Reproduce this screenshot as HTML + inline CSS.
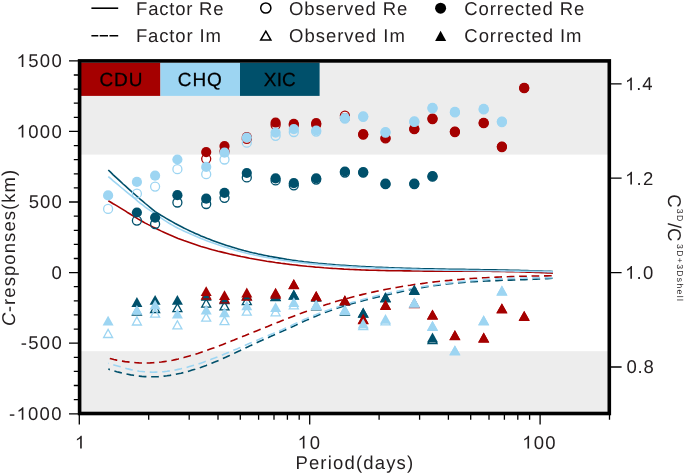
<!DOCTYPE html><html><head><meta charset="utf-8"><style>
html,body{margin:0;padding:0;background:#fff;overflow:hidden;}
svg{display:block;will-change:transform;}
text{font-family:"Liberation Sans",sans-serif;font-size:18.5px;fill:#231f20;letter-spacing:1.10px;text-rendering:geometricPrecision;}
text.st{fill:#000;stroke:#000;stroke-width:0.25px;}
</style></head><body>
<svg width="685" height="475" viewBox="0 0 685 475">
<rect x="0" y="0" width="685" height="475" fill="#fff"/>
<rect x="79.6" y="60.9" width="529.7" height="93.7" fill="#ededed"/>
<rect x="79.6" y="351.2" width="529.7" height="62.3" fill="#ededed"/>
<rect x="81" y="62.6" width="79.4" height="33.3" fill="#a50000"/>
<rect x="160.4" y="62.6" width="79.6" height="33.3" fill="#9dd5f2"/>
<rect x="240" y="62.6" width="79.6" height="33.3" fill="#00506b"/>
<text x="99.44" y="85.60" style="letter-spacing:0.934px;font-size:19.00px" class="st">CDU</text>
<text x="177.84" y="85.60" style="letter-spacing:0.926px;font-size:19.00px" class="st">CHQ</text>
<text x="263.77" y="85.60" style="letter-spacing:0.189px;font-size:19.00px" class="st">XIC</text>
<path d="M108.3,200.8 L110.8,202.2 L113.2,203.7 L115.7,205.1 L118.2,206.6 L120.6,208.1 L123.1,209.6 L125.6,211.2 L128.0,212.8 L130.5,214.3 L133.0,215.9 L135.5,217.4 L137.9,218.9 L140.4,220.3 L142.9,221.7 L145.3,223.1 L147.8,224.4 L150.3,225.6 L152.7,226.9 L155.2,228.0 L158.1,229.5 L160.9,230.9 L163.8,232.2 L166.6,233.5 L169.5,234.8 L172.4,236.0 L175.2,237.2 L178.1,238.4 L181.0,239.5 L183.8,240.6 L186.7,241.6 L189.5,242.6 L192.4,243.6 L195.3,244.6 L198.1,245.5 L201.0,246.4 L203.8,247.2 L206.7,248.1 L209.6,248.9 L212.4,249.7 L215.3,250.4 L218.1,251.2 L221.0,251.9 L223.9,252.6 L226.7,253.3 L229.6,254.0 L232.5,254.6 L235.3,255.2 L238.2,255.9 L241.0,256.5 L243.9,257.0 L246.8,257.6 L249.6,258.2 L252.5,258.7 L255.3,259.2 L258.2,259.7 L261.1,260.2 L263.9,260.7 L266.8,261.2 L269.6,261.6 L272.5,262.0 L275.4,262.5 L278.2,262.9 L281.1,263.3 L284.0,263.6 L286.8,264.0 L289.7,264.4 L292.5,264.7 L295.4,265.0 L298.3,265.4 L301.1,265.7 L304.0,266.0 L306.8,266.3 L309.7,266.5 L312.6,266.8 L315.4,267.1 L318.3,267.3 L321.1,267.5 L324.0,267.8 L326.9,268.0 L329.7,268.2 L332.6,268.4 L335.5,268.5 L338.3,268.7 L341.2,268.9 L344.0,269.1 L346.9,269.2 L349.8,269.4 L352.6,269.5 L355.5,269.6 L358.3,269.7 L361.2,269.9 L364.1,270.0 L366.9,270.1 L369.8,270.2 L372.6,270.2 L375.5,270.3 L378.4,270.4 L381.2,270.5 L384.1,270.5 L387.0,270.6 L389.8,270.7 L392.7,270.7 L395.5,270.8 L398.4,270.8 L401.3,270.8 L404.1,270.9 L407.0,270.9 L409.8,270.9 L412.7,271.0 L415.6,271.0 L418.4,271.0 L421.3,271.0 L424.1,271.1 L427.0,271.1 L429.9,271.1 L432.7,271.1 L435.6,271.1 L438.5,271.1 L441.3,271.1 L444.2,271.1 L447.0,271.1 L449.9,271.1 L452.8,271.1 L455.6,271.2 L458.5,271.2 L461.3,271.2 L464.2,271.2 L467.1,271.2 L469.9,271.2 L472.8,271.2 L475.6,271.2 L478.5,271.3 L481.4,271.3 L484.2,271.3 L487.1,271.3 L490.0,271.3 L492.8,271.4 L495.7,271.4 L498.5,271.5 L501.4,271.5 L504.3,271.5 L507.1,271.6 L510.0,271.6 L512.8,271.7 L515.7,271.8 L518.6,271.8 L521.4,271.9 L524.3,272.0 L527.1,272.1 L530.0,272.2 L532.9,272.3 L535.7,272.4 L538.6,272.5 L541.5,272.6 L544.3,272.7 L547.2,272.9 L550.0,273.0 L552.9,273.2" fill="none" stroke="#a50000" stroke-width="1.6"/>
<path d="M108.3,170.0 L110.8,172.4 L113.2,174.8 L115.7,177.1 L118.2,179.4 L120.6,181.7 L123.1,184.0 L125.6,186.2 L128.0,188.4 L130.5,190.6 L133.0,192.8 L135.5,195.0 L137.9,197.1 L140.4,199.3 L142.9,201.4 L145.3,203.5 L147.8,205.5 L150.3,207.6 L152.7,209.6 L155.2,211.6 L158.1,213.4 L160.9,215.2 L163.8,216.9 L166.6,218.6 L169.5,220.3 L172.4,221.9 L175.2,223.5 L178.1,225.0 L181.0,226.5 L183.8,228.0 L186.7,229.4 L189.5,230.7 L192.4,232.1 L195.3,233.4 L198.1,234.6 L201.0,235.9 L203.8,237.0 L206.7,238.2 L209.6,239.3 L212.4,240.4 L215.3,241.5 L218.1,242.5 L221.0,243.5 L223.9,244.5 L226.7,245.4 L229.6,246.3 L232.5,247.2 L235.3,248.1 L238.2,248.9 L241.0,249.7 L243.9,250.5 L246.8,251.2 L249.6,252.0 L252.5,252.7 L255.3,253.3 L258.2,254.0 L261.1,254.6 L263.9,255.2 L266.8,255.8 L269.6,256.4 L272.5,256.9 L275.4,257.4 L278.2,257.9 L281.1,258.4 L284.0,258.9 L286.8,259.4 L289.7,259.8 L292.5,260.2 L295.4,260.6 L298.3,261.0 L301.1,261.3 L304.0,261.7 L306.8,262.0 L309.7,262.4 L312.6,262.7 L315.4,263.0 L318.3,263.3 L321.1,263.5 L324.0,263.8 L326.9,264.1 L329.7,264.3 L332.6,264.5 L335.5,264.8 L338.3,265.0 L341.2,265.2 L344.0,265.4 L346.9,265.6 L349.8,265.8 L352.6,266.0 L355.5,266.1 L358.3,266.3 L361.2,266.5 L364.1,266.6 L366.9,266.8 L369.8,266.9 L372.6,267.0 L375.5,267.2 L378.4,267.3 L381.2,267.4 L384.1,267.5 L387.0,267.6 L389.8,267.8 L392.7,267.9 L395.5,268.0 L398.4,268.0 L401.3,268.1 L404.1,268.2 L407.0,268.3 L409.8,268.4 L412.7,268.5 L415.6,268.5 L418.4,268.6 L421.3,268.7 L424.1,268.7 L427.0,268.8 L429.9,268.8 L432.7,268.9 L435.6,269.0 L438.5,269.0 L441.3,269.1 L444.2,269.1 L447.0,269.2 L449.9,269.2 L452.8,269.2 L455.6,269.3 L458.5,269.3 L461.3,269.4 L464.2,269.4 L467.1,269.5 L469.9,269.5 L472.8,269.6 L475.6,269.6 L478.5,269.6 L481.4,269.7 L484.2,269.7 L487.1,269.8 L490.0,269.8 L492.8,269.9 L495.7,269.9 L498.5,270.0 L501.4,270.0 L504.3,270.1 L507.1,270.1 L510.0,270.2 L512.8,270.3 L515.7,270.3 L518.6,270.4 L521.4,270.5 L524.3,270.6 L527.1,270.6 L530.0,270.7 L532.9,270.8 L535.7,270.9 L538.6,271.0 L541.5,271.1 L544.3,271.2 L547.2,271.3 L550.0,271.4 L552.9,271.5" fill="none" stroke="#00506b" stroke-width="1.6"/>
<path d="M108.3,176.6 L110.8,178.7 L113.2,180.8 L115.7,182.8 L118.2,184.9 L120.6,187.0 L123.1,189.0 L125.6,191.1 L128.0,193.1 L130.5,195.1 L133.0,197.2 L135.5,199.2 L137.9,201.3 L140.4,203.3 L142.9,205.2 L145.3,207.1 L147.8,208.9 L150.3,210.6 L152.7,212.2 L155.2,213.8 L158.1,215.9 L160.9,217.9 L163.8,219.8 L166.6,221.7 L169.5,223.5 L172.4,225.1 L175.2,226.7 L178.1,228.2 L181.0,229.6 L183.8,230.9 L186.7,232.2 L189.5,233.5 L192.4,234.8 L195.3,236.0 L198.1,237.2 L201.0,238.4 L203.8,239.6 L206.7,240.7 L209.6,241.7 L212.4,242.8 L215.3,243.8 L218.1,244.8 L221.0,245.8 L223.9,246.7 L226.7,247.6 L229.6,248.5 L232.5,249.3 L235.3,250.2 L238.2,250.9 L241.0,251.7 L243.9,252.5 L246.8,253.2 L249.6,253.9 L252.5,254.5 L255.3,255.2 L258.2,255.8 L261.1,256.4 L263.9,256.9 L266.8,257.5 L269.6,258.0 L272.5,258.5 L275.4,259.0 L278.2,259.5 L281.1,259.9 L284.0,260.4 L286.8,260.8 L289.7,261.2 L292.5,261.6 L295.4,261.9 L298.3,262.3 L301.1,262.6 L304.0,263.0 L306.8,263.3 L309.7,263.6 L312.6,263.9 L315.4,264.1 L318.3,264.4 L321.1,264.6 L324.0,264.9 L326.9,265.1 L329.7,265.3 L332.6,265.6 L335.5,265.8 L338.3,266.0 L341.2,266.2 L344.0,266.3 L346.9,266.5 L349.8,266.7 L352.6,266.9 L355.5,267.0 L358.3,267.2 L361.2,267.4 L364.1,267.5 L366.9,267.7 L369.8,267.8 L372.6,267.9 L375.5,268.1 L378.4,268.2 L381.2,268.3 L384.1,268.4 L387.0,268.5 L389.8,268.6 L392.7,268.7 L395.5,268.8 L398.4,268.9 L401.3,269.0 L404.1,269.1 L407.0,269.2 L409.8,269.3 L412.7,269.4 L415.6,269.4 L418.4,269.5 L421.3,269.6 L424.1,269.7 L427.0,269.7 L429.9,269.8 L432.7,269.8 L435.6,269.9 L438.5,270.0 L441.3,270.0 L444.2,270.1 L447.0,270.1 L449.9,270.2 L452.8,270.2 L455.6,270.3 L458.5,270.3 L461.3,270.3 L464.2,270.4 L467.1,270.4 L469.9,270.5 L472.8,270.5 L475.6,270.5 L478.5,270.6 L481.4,270.6 L484.2,270.7 L487.1,270.7 L490.0,270.7 L492.8,270.8 L495.7,270.8 L498.5,270.8 L501.4,270.9 L504.3,270.9 L507.1,271.0 L510.0,271.0 L512.8,271.0 L515.7,271.1 L518.6,271.1 L521.4,271.2 L524.3,271.2 L527.1,271.3 L530.0,271.3 L532.9,271.4 L535.7,271.4 L538.6,271.5 L541.5,271.5 L544.3,271.6 L547.2,271.6 L550.0,271.7 L552.9,271.8" fill="none" stroke="#9dd5f2" stroke-width="1.6"/>
<path d="M108.3,358.1 L111.1,358.8 L113.9,359.5 L116.7,360.1 L119.5,360.6 L122.3,361.1 L125.1,361.6 L127.9,361.9 L130.7,362.3 L133.5,362.5 L136.3,362.7 L139.1,362.9 L141.9,363.0 L144.7,363.0 L147.4,363.0 L150.2,362.9 L153.0,362.7 L155.8,362.5 L158.6,362.3 L161.4,362.0 L164.2,361.6 L167.0,361.2 L169.8,360.7 L172.6,360.2 L175.4,359.6 L178.2,359.0 L181.0,358.3 L183.8,357.6 L186.6,356.8 L189.4,356.0 L192.2,355.2 L195.0,354.4 L197.8,353.5 L200.6,352.5 L203.4,351.6 L206.2,350.6 L209.0,349.6 L211.8,348.6 L214.6,347.6 L217.4,346.5 L220.1,345.5 L222.9,344.4 L225.7,343.3 L228.5,342.2 L231.3,341.1 L234.1,340.0 L236.9,338.8 L239.7,337.7 L242.5,336.6 L245.3,335.5 L248.1,334.3 L250.9,333.2 L253.7,332.1 L256.5,330.9 L259.3,329.8 L262.1,328.6 L264.9,327.5 L267.7,326.4 L270.5,325.2 L273.3,324.1 L276.1,323.0 L278.9,321.9 L281.7,320.8 L284.5,319.7 L287.3,318.6 L290.1,317.5 L292.9,316.4 L295.6,315.4 L298.4,314.3 L301.2,313.3 L304.0,312.2 L306.8,311.2 L309.6,310.2 L312.4,309.2 L315.2,308.3 L318.0,307.3 L320.8,306.4 L323.6,305.4 L326.4,304.5 L329.2,303.7 L332.0,302.8 L334.8,301.9 L337.6,301.1 L340.4,300.3 L343.2,299.5 L346.0,298.7 L348.8,298.0 L351.6,297.2 L354.4,296.5 L357.2,295.8 L360.0,295.1 L362.8,294.4 L365.6,293.7 L368.3,293.1 L371.1,292.5 L373.9,291.9 L376.7,291.3 L379.5,290.7 L382.3,290.1 L385.1,289.5 L387.9,289.0 L390.7,288.5 L393.5,288.0 L396.3,287.5 L399.1,287.0 L401.9,286.5 L404.7,286.0 L407.5,285.6 L410.3,285.2 L413.1,284.7 L415.9,284.3 L418.7,283.9 L421.5,283.6 L424.3,283.2 L427.1,282.8 L429.9,282.5 L432.7,282.1 L435.5,281.8 L438.3,281.5 L441.1,281.2 L443.8,280.9 L446.6,280.6 L449.4,280.4 L452.2,280.1 L455.0,279.8 L457.8,279.6 L460.6,279.4 L463.4,279.1 L466.2,278.9 L469.0,278.7 L471.8,278.5 L474.6,278.3 L477.4,278.2 L480.2,278.0 L483.0,277.8 L485.8,277.7 L488.6,277.5 L491.4,277.4 L494.2,277.2 L497.0,277.1 L499.8,277.0 L502.6,276.9 L505.4,276.8 L508.2,276.7 L511.0,276.6 L513.8,276.5 L516.5,276.4 L519.3,276.3 L522.1,276.3 L524.9,276.2 L527.7,276.2 L530.5,276.1 L533.3,276.0 L536.1,276.0 L538.9,276.0 L541.7,275.9 L544.5,275.9 L547.3,275.9 L550.1,275.8 L552.9,275.8" fill="none" stroke="#a50000" stroke-width="1.6" stroke-dasharray="7.7 4.73" stroke-dashoffset="10.9"/>
<path d="M108.3,369.1 L111.1,370.0 L113.9,370.9 L116.7,371.7 L119.5,372.4 L122.3,373.1 L125.1,373.8 L127.9,374.3 L130.7,374.9 L133.5,375.3 L136.3,375.8 L139.1,376.1 L141.9,376.4 L144.7,376.6 L147.4,376.7 L150.2,376.8 L153.0,376.8 L155.8,376.7 L158.6,376.6 L161.4,376.4 L164.2,376.1 L167.0,375.8 L169.8,375.4 L172.6,374.9 L175.4,374.4 L178.2,373.8 L181.0,373.2 L183.8,372.5 L186.6,371.7 L189.4,371.0 L192.2,370.1 L195.0,369.3 L197.8,368.3 L200.6,367.4 L203.4,366.4 L206.2,365.4 L209.0,364.3 L211.8,363.2 L214.6,362.1 L217.4,360.9 L220.1,359.7 L222.9,358.5 L225.7,357.3 L228.5,356.0 L231.3,354.7 L234.1,353.4 L236.9,352.1 L239.7,350.8 L242.5,349.4 L245.3,348.1 L248.1,346.8 L250.9,345.4 L253.7,344.1 L256.5,342.8 L259.3,341.5 L262.1,340.3 L264.9,339.0 L267.7,337.8 L270.5,336.5 L273.3,335.3 L276.1,334.0 L278.9,332.8 L281.7,331.5 L284.5,330.3 L287.3,329.0 L290.1,327.7 L292.9,326.4 L295.6,325.2 L298.4,323.9 L301.2,322.6 L304.0,321.3 L306.8,320.1 L309.6,318.9 L312.4,317.7 L315.2,316.5 L318.0,315.3 L320.8,314.2 L323.6,313.1 L326.4,312.0 L329.2,311.0 L332.0,310.0 L334.8,309.1 L337.6,308.1 L340.4,307.2 L343.2,306.3 L346.0,305.5 L348.8,304.6 L351.6,303.8 L354.4,303.0 L357.2,302.3 L360.0,301.5 L362.8,300.8 L365.6,300.0 L368.3,299.3 L371.1,298.6 L373.9,297.9 L376.7,297.2 L379.5,296.6 L382.3,295.9 L385.1,295.2 L387.9,294.6 L390.7,294.0 L393.5,293.3 L396.3,292.7 L399.1,292.1 L401.9,291.5 L404.7,290.9 L407.5,290.3 L410.3,289.8 L413.1,289.2 L415.9,288.7 L418.7,288.2 L421.5,287.7 L424.3,287.2 L427.1,286.7 L429.9,286.3 L432.7,285.9 L435.5,285.5 L438.3,285.1 L441.1,284.7 L443.8,284.3 L446.6,284.0 L449.4,283.7 L452.2,283.4 L455.0,283.1 L457.8,282.9 L460.6,282.6 L463.4,282.4 L466.2,282.2 L469.0,282.0 L471.8,281.8 L474.6,281.6 L477.4,281.5 L480.2,281.3 L483.0,281.2 L485.8,281.0 L488.6,280.9 L491.4,280.8 L494.2,280.7 L497.0,280.6 L499.8,280.4 L502.6,280.3 L505.4,280.2 L508.2,280.1 L511.0,280.1 L513.8,280.0 L516.5,279.9 L519.3,279.8 L522.1,279.7 L524.9,279.6 L527.7,279.5 L530.5,279.4 L533.3,279.3 L536.1,279.1 L538.9,279.0 L541.7,278.9 L544.5,278.8 L547.3,278.6 L550.1,278.5 L552.9,278.3" fill="none" stroke="#00506b" stroke-width="1.6" stroke-dasharray="7.7 4.73" stroke-dashoffset="6.0"/>
<path d="M108.3,363.3 L111.1,364.1 L113.9,364.9 L116.7,365.7 L119.5,366.5 L122.3,367.3 L125.1,368.1 L127.9,368.9 L130.7,369.6 L133.5,370.2 L136.3,370.7 L139.1,371.2 L141.9,371.5 L144.7,371.8 L147.4,372.0 L150.2,372.1 L153.0,372.2 L155.8,372.1 L158.6,372.0 L161.4,371.8 L164.2,371.6 L167.0,371.3 L169.8,370.9 L172.6,370.5 L175.4,370.0 L178.2,369.4 L181.0,368.8 L183.8,368.1 L186.6,367.4 L189.4,366.6 L192.2,365.8 L195.0,365.0 L197.8,364.1 L200.6,363.2 L203.4,362.2 L206.2,361.2 L209.0,360.2 L211.8,359.1 L214.6,358.1 L217.4,357.0 L220.1,355.9 L222.9,354.7 L225.7,353.6 L228.5,352.4 L231.3,351.2 L234.1,350.0 L236.9,348.9 L239.7,347.7 L242.5,346.5 L245.3,345.3 L248.1,344.0 L250.9,342.8 L253.7,341.6 L256.5,340.4 L259.3,339.3 L262.1,338.1 L264.9,336.9 L267.7,335.8 L270.5,334.6 L273.3,333.4 L276.1,332.3 L278.9,331.1 L281.7,329.9 L284.5,328.6 L287.3,327.4 L290.1,326.1 L292.9,324.8 L295.6,323.5 L298.4,322.1 L301.2,320.9 L304.0,319.6 L306.8,318.4 L309.6,317.2 L312.4,316.0 L315.2,314.9 L318.0,313.8 L320.8,312.8 L323.6,311.7 L326.4,310.7 L329.2,309.7 L332.0,308.8 L334.8,307.8 L337.6,306.9 L340.4,306.0 L343.2,305.1 L346.0,304.3 L348.8,303.5 L351.6,302.6 L354.4,301.8 L357.2,301.0 L360.0,300.3 L362.8,299.5 L365.6,298.7 L368.3,298.0 L371.1,297.3 L373.9,296.6 L376.7,295.9 L379.5,295.2 L382.3,294.5 L385.1,293.9 L387.9,293.3 L390.7,292.6 L393.5,292.0 L396.3,291.4 L399.1,290.9 L401.9,290.3 L404.7,289.8 L407.5,289.2 L410.3,288.7 L413.1,288.2 L415.9,287.7 L418.7,287.2 L421.5,286.8 L424.3,286.3 L427.1,285.9 L429.9,285.5 L432.7,285.1 L435.5,284.7 L438.3,284.3 L441.1,283.9 L443.8,283.6 L446.6,283.2 L449.4,282.9 L452.2,282.6 L455.0,282.3 L457.8,282.0 L460.6,281.7 L463.4,281.4 L466.2,281.1 L469.0,280.9 L471.8,280.6 L474.6,280.4 L477.4,280.2 L480.2,280.0 L483.0,279.8 L485.8,279.6 L488.6,279.4 L491.4,279.2 L494.2,279.1 L497.0,278.9 L499.8,278.8 L502.6,278.7 L505.4,278.6 L508.2,278.4 L511.0,278.3 L513.8,278.2 L516.5,278.2 L519.3,278.1 L522.1,278.0 L524.9,278.0 L527.7,277.9 L530.5,277.9 L533.3,277.8 L536.1,277.8 L538.9,277.8 L541.7,277.8 L544.5,277.8 L547.3,277.8 L550.1,277.8 L552.9,277.8" fill="none" stroke="#9dd5f2" stroke-width="1.6" stroke-dasharray="7.7 4.73" stroke-dashoffset="7.2"/>
<circle cx="136.9" cy="220.6" r="4.5" fill="none" stroke="#00506b" stroke-width="1.3"/>
<circle cx="155.1" cy="224.0" r="4.5" fill="none" stroke="#00506b" stroke-width="1.3"/>
<circle cx="177.4" cy="202.5" r="4.5" fill="none" stroke="#00506b" stroke-width="1.3"/>
<circle cx="206.2" cy="204.0" r="4.5" fill="none" stroke="#00506b" stroke-width="1.3"/>
<circle cx="224.5" cy="197.8" r="4.5" fill="none" stroke="#00506b" stroke-width="1.3"/>
<circle cx="246.8" cy="177.4" r="4.5" fill="none" stroke="#00506b" stroke-width="1.3"/>
<circle cx="275.6" cy="180.4" r="4.5" fill="none" stroke="#00506b" stroke-width="1.3"/>
<circle cx="293.8" cy="185.3" r="4.5" fill="none" stroke="#00506b" stroke-width="1.3"/>
<circle cx="316.2" cy="179.6" r="4.5" fill="none" stroke="#00506b" stroke-width="1.3"/>
<circle cx="344.9" cy="172.5" r="4.5" fill="none" stroke="#00506b" stroke-width="1.3"/>
<circle cx="363.2" cy="172.6" r="4.5" fill="none" stroke="#00506b" stroke-width="1.3"/>
<circle cx="385.5" cy="184.2" r="4.5" fill="none" stroke="#00506b" stroke-width="1.3"/>
<circle cx="414.3" cy="184.1" r="4.5" fill="none" stroke="#00506b" stroke-width="1.3"/>
<circle cx="432.5" cy="176.7" r="4.5" fill="none" stroke="#00506b" stroke-width="1.3"/>
<path d="M136.9,307.1 L141.4,315.2 L132.4,315.2 Z" fill="none" stroke="#00506b" stroke-width="1.3"/>
<path d="M155.1,304.4 L159.6,312.5 L150.6,312.5 Z" fill="none" stroke="#00506b" stroke-width="1.3"/>
<path d="M177.4,303.6 L181.9,311.7 L172.9,311.7 Z" fill="none" stroke="#00506b" stroke-width="1.3"/>
<path d="M206.2,299.0 L210.7,307.1 L201.7,307.1 Z" fill="none" stroke="#00506b" stroke-width="1.3"/>
<path d="M224.5,301.8 L229.0,309.9 L220.0,309.9 Z" fill="none" stroke="#00506b" stroke-width="1.3"/>
<path d="M246.8,296.6 L251.3,304.7 L242.3,304.7 Z" fill="none" stroke="#00506b" stroke-width="1.3"/>
<path d="M275.6,292.6 L280.1,300.7 L271.1,300.7 Z" fill="none" stroke="#00506b" stroke-width="1.3"/>
<path d="M293.8,291.1 L298.3,299.2 L289.3,299.2 Z" fill="none" stroke="#00506b" stroke-width="1.3"/>
<path d="M316.2,301.7 L320.7,309.8 L311.7,309.8 Z" fill="none" stroke="#00506b" stroke-width="1.3"/>
<path d="M344.9,307.1 L349.4,315.2 L340.4,315.2 Z" fill="none" stroke="#00506b" stroke-width="1.3"/>
<path d="M363.2,309.1 L367.7,317.2 L358.7,317.2 Z" fill="none" stroke="#00506b" stroke-width="1.3"/>
<path d="M385.5,293.7 L390.0,301.8 L381.0,301.8 Z" fill="none" stroke="#00506b" stroke-width="1.3"/>
<path d="M414.3,286.3 L418.8,294.4 L409.8,294.4 Z" fill="none" stroke="#00506b" stroke-width="1.3"/>
<path d="M432.5,335.4 L437.0,343.5 L428.0,343.5 Z" fill="none" stroke="#00506b" stroke-width="1.3"/>
<circle cx="136.9" cy="212.5" r="5.1" fill="#00506b"/>
<circle cx="155.1" cy="217.6" r="5.1" fill="#00506b"/>
<circle cx="177.4" cy="195.2" r="5.1" fill="#00506b"/>
<circle cx="206.2" cy="198.7" r="5.1" fill="#00506b"/>
<circle cx="224.5" cy="192.8" r="5.1" fill="#00506b"/>
<circle cx="246.8" cy="173.0" r="5.1" fill="#00506b"/>
<circle cx="275.6" cy="178.3" r="5.1" fill="#00506b"/>
<circle cx="293.8" cy="183.2" r="5.1" fill="#00506b"/>
<circle cx="316.2" cy="178.3" r="5.1" fill="#00506b"/>
<circle cx="344.9" cy="171.5" r="5.1" fill="#00506b"/>
<circle cx="363.2" cy="172.1" r="5.1" fill="#00506b"/>
<circle cx="385.5" cy="183.7" r="5.1" fill="#00506b"/>
<circle cx="414.3" cy="183.6" r="5.1" fill="#00506b"/>
<circle cx="432.5" cy="176.2" r="5.1" fill="#00506b"/>
<path d="M136.9,297.1 L142.4,306.9 L131.4,306.9 Z" fill="#00506b"/>
<path d="M155.1,295.0 L160.6,304.8 L149.6,304.8 Z" fill="#00506b"/>
<path d="M177.4,295.0 L182.9,304.8 L171.9,304.8 Z" fill="#00506b"/>
<path d="M206.2,291.0 L211.7,300.8 L200.7,300.8 Z" fill="#00506b"/>
<path d="M224.5,294.5 L230.0,304.3 L219.0,304.3 Z" fill="#00506b"/>
<path d="M246.8,290.5 L252.3,300.3 L241.3,300.3 Z" fill="#00506b"/>
<path d="M275.6,291.2 L281.1,301.0 L270.1,301.0 Z" fill="#00506b"/>
<path d="M293.8,289.6 L299.3,299.4 L288.3,299.4 Z" fill="#00506b"/>
<path d="M316.2,292.0 L321.7,301.8 L310.7,301.8 Z" fill="#00506b"/>
<path d="M344.9,296.0 L350.4,305.8 L339.4,305.8 Z" fill="#00506b"/>
<path d="M363.2,307.6 L368.7,317.4 L357.7,317.4 Z" fill="#00506b"/>
<path d="M385.5,292.2 L391.0,302.0 L380.0,302.0 Z" fill="#00506b"/>
<path d="M414.3,284.8 L419.8,294.6 L408.8,294.6 Z" fill="#00506b"/>
<path d="M432.5,332.6 L438.0,342.4 L427.0,342.4 Z" fill="#00506b"/>
<circle cx="206.2" cy="158.8" r="4.5" fill="none" stroke="#a50000" stroke-width="1.3"/>
<circle cx="224.5" cy="151.5" r="4.5" fill="none" stroke="#a50000" stroke-width="1.3"/>
<circle cx="246.8" cy="138.9" r="4.5" fill="none" stroke="#a50000" stroke-width="1.3"/>
<circle cx="275.6" cy="125.0" r="4.5" fill="none" stroke="#a50000" stroke-width="1.3"/>
<circle cx="293.8" cy="125.0" r="4.5" fill="none" stroke="#a50000" stroke-width="1.3"/>
<circle cx="316.2" cy="124.5" r="4.5" fill="none" stroke="#a50000" stroke-width="1.3"/>
<circle cx="344.9" cy="115.7" r="4.5" fill="none" stroke="#a50000" stroke-width="1.3"/>
<circle cx="363.2" cy="134.6" r="4.5" fill="none" stroke="#a50000" stroke-width="1.3"/>
<circle cx="385.5" cy="138.4" r="4.5" fill="none" stroke="#a50000" stroke-width="1.3"/>
<circle cx="414.3" cy="129.2" r="4.5" fill="none" stroke="#a50000" stroke-width="1.3"/>
<circle cx="432.5" cy="119.0" r="4.5" fill="none" stroke="#a50000" stroke-width="1.3"/>
<circle cx="454.9" cy="132.0" r="4.5" fill="none" stroke="#a50000" stroke-width="1.3"/>
<circle cx="483.7" cy="123.2" r="4.5" fill="none" stroke="#a50000" stroke-width="1.3"/>
<circle cx="501.9" cy="147.0" r="4.5" fill="none" stroke="#a50000" stroke-width="1.3"/>
<circle cx="524.2" cy="88.2" r="4.5" fill="none" stroke="#a50000" stroke-width="1.3"/>
<path d="M206.2,290.9 L210.7,299.0 L201.7,299.0 Z" fill="none" stroke="#a50000" stroke-width="1.3"/>
<path d="M224.5,294.7 L229.0,302.8 L220.0,302.8 Z" fill="none" stroke="#a50000" stroke-width="1.3"/>
<path d="M246.8,291.9 L251.3,300.0 L242.3,300.0 Z" fill="none" stroke="#a50000" stroke-width="1.3"/>
<path d="M275.6,289.9 L280.1,298.0 L271.1,298.0 Z" fill="none" stroke="#a50000" stroke-width="1.3"/>
<path d="M293.8,280.6 L298.3,288.7 L289.3,288.7 Z" fill="none" stroke="#a50000" stroke-width="1.3"/>
<path d="M316.2,292.4 L320.7,300.5 L311.7,300.5 Z" fill="none" stroke="#a50000" stroke-width="1.3"/>
<path d="M344.9,296.7 L349.4,304.8 L340.4,304.8 Z" fill="none" stroke="#a50000" stroke-width="1.3"/>
<path d="M363.2,315.4 L367.7,323.5 L358.7,323.5 Z" fill="none" stroke="#a50000" stroke-width="1.3"/>
<path d="M385.5,301.3 L390.0,309.4 L381.0,309.4 Z" fill="none" stroke="#a50000" stroke-width="1.3"/>
<path d="M414.3,299.4 L418.8,307.5 L409.8,307.5 Z" fill="none" stroke="#a50000" stroke-width="1.3"/>
<path d="M432.5,311.0 L437.0,319.1 L428.0,319.1 Z" fill="none" stroke="#a50000" stroke-width="1.3"/>
<path d="M454.9,331.6 L459.4,339.7 L450.4,339.7 Z" fill="none" stroke="#a50000" stroke-width="1.3"/>
<path d="M483.7,333.9 L488.2,342.0 L479.2,342.0 Z" fill="none" stroke="#a50000" stroke-width="1.3"/>
<path d="M501.9,304.8 L506.4,312.9 L497.4,312.9 Z" fill="none" stroke="#a50000" stroke-width="1.3"/>
<path d="M524.2,312.3 L528.7,320.4 L519.7,320.4 Z" fill="none" stroke="#a50000" stroke-width="1.3"/>
<circle cx="206.2" cy="152.1" r="5.1" fill="#a50000"/>
<circle cx="224.5" cy="146.1" r="5.1" fill="#a50000"/>
<circle cx="246.8" cy="137.0" r="5.1" fill="#a50000"/>
<circle cx="275.6" cy="122.7" r="5.1" fill="#a50000"/>
<circle cx="293.8" cy="123.8" r="5.1" fill="#a50000"/>
<circle cx="316.2" cy="123.2" r="5.1" fill="#a50000"/>
<circle cx="344.9" cy="118.0" r="5.1" fill="#a50000"/>
<circle cx="363.2" cy="134.2" r="5.1" fill="#a50000"/>
<circle cx="385.5" cy="138.0" r="5.1" fill="#a50000"/>
<circle cx="414.3" cy="128.8" r="5.1" fill="#a50000"/>
<circle cx="432.5" cy="118.6" r="5.1" fill="#a50000"/>
<circle cx="454.9" cy="131.6" r="5.1" fill="#a50000"/>
<circle cx="483.7" cy="122.8" r="5.1" fill="#a50000"/>
<circle cx="501.9" cy="146.6" r="5.1" fill="#a50000"/>
<circle cx="524.2" cy="87.8" r="5.1" fill="#a50000"/>
<path d="M206.2,286.2 L211.7,296.0 L200.7,296.0 Z" fill="#a50000"/>
<path d="M224.5,290.2 L230.0,300.0 L219.0,300.0 Z" fill="#a50000"/>
<path d="M246.8,287.6 L252.3,297.4 L241.3,297.4 Z" fill="#a50000"/>
<path d="M275.6,287.7 L281.1,297.5 L270.1,297.5 Z" fill="#a50000"/>
<path d="M293.8,279.1 L299.3,288.9 L288.3,288.9 Z" fill="#a50000"/>
<path d="M316.2,290.9 L321.7,300.7 L310.7,300.7 Z" fill="#a50000"/>
<path d="M344.9,295.2 L350.4,305.0 L339.4,305.0 Z" fill="#a50000"/>
<path d="M363.2,313.9 L368.7,323.7 L357.7,323.7 Z" fill="#a50000"/>
<path d="M385.5,299.8 L391.0,309.6 L380.0,309.6 Z" fill="#a50000"/>
<path d="M414.3,298.3 L419.8,308.1 L408.8,308.1 Z" fill="#a50000"/>
<path d="M432.5,309.5 L438.0,319.3 L427.0,319.3 Z" fill="#a50000"/>
<path d="M454.9,330.1 L460.4,339.9 L449.4,339.9 Z" fill="#a50000"/>
<path d="M483.7,332.4 L489.2,342.2 L478.2,342.2 Z" fill="#a50000"/>
<path d="M501.9,303.3 L507.4,313.1 L496.4,313.1 Z" fill="#a50000"/>
<path d="M524.2,310.8 L529.7,320.6 L518.7,320.6 Z" fill="#a50000"/>
<circle cx="108.1" cy="208.9" r="4.5" fill="none" stroke="#9dd5f2" stroke-width="1.3"/>
<circle cx="136.9" cy="193.7" r="4.5" fill="none" stroke="#9dd5f2" stroke-width="1.3"/>
<circle cx="155.1" cy="186.6" r="4.5" fill="none" stroke="#9dd5f2" stroke-width="1.3"/>
<circle cx="177.4" cy="169.2" r="4.5" fill="none" stroke="#9dd5f2" stroke-width="1.3"/>
<circle cx="206.2" cy="174.2" r="4.5" fill="none" stroke="#9dd5f2" stroke-width="1.3"/>
<circle cx="224.5" cy="159.5" r="4.5" fill="none" stroke="#9dd5f2" stroke-width="1.3"/>
<circle cx="246.8" cy="142.7" r="4.5" fill="none" stroke="#9dd5f2" stroke-width="1.3"/>
<circle cx="275.6" cy="135.8" r="4.5" fill="none" stroke="#9dd5f2" stroke-width="1.3"/>
<circle cx="293.8" cy="132.0" r="4.5" fill="none" stroke="#9dd5f2" stroke-width="1.3"/>
<circle cx="316.2" cy="131.6" r="4.5" fill="none" stroke="#9dd5f2" stroke-width="1.3"/>
<circle cx="344.9" cy="118.5" r="4.5" fill="none" stroke="#9dd5f2" stroke-width="1.3"/>
<circle cx="363.2" cy="116.8" r="4.5" fill="none" stroke="#9dd5f2" stroke-width="1.3"/>
<circle cx="385.5" cy="132.6" r="4.5" fill="none" stroke="#9dd5f2" stroke-width="1.3"/>
<circle cx="414.3" cy="121.9" r="4.5" fill="none" stroke="#9dd5f2" stroke-width="1.3"/>
<circle cx="432.5" cy="108.3" r="4.5" fill="none" stroke="#9dd5f2" stroke-width="1.3"/>
<circle cx="454.9" cy="112.4" r="4.5" fill="none" stroke="#9dd5f2" stroke-width="1.3"/>
<circle cx="483.7" cy="109.4" r="4.5" fill="none" stroke="#9dd5f2" stroke-width="1.3"/>
<circle cx="501.9" cy="122.0" r="4.5" fill="none" stroke="#9dd5f2" stroke-width="1.3"/>
<path d="M108.1,329.4 L112.6,337.5 L103.6,337.5 Z" fill="none" stroke="#9dd5f2" stroke-width="1.3"/>
<path d="M136.9,316.9 L141.4,325.0 L132.4,325.0 Z" fill="none" stroke="#9dd5f2" stroke-width="1.3"/>
<path d="M155.1,309.1 L159.6,317.2 L150.6,317.2 Z" fill="none" stroke="#9dd5f2" stroke-width="1.3"/>
<path d="M177.4,320.8 L181.9,328.9 L172.9,328.9 Z" fill="none" stroke="#9dd5f2" stroke-width="1.3"/>
<path d="M206.2,313.1 L210.7,321.2 L201.7,321.2 Z" fill="none" stroke="#9dd5f2" stroke-width="1.3"/>
<path d="M224.5,316.6 L229.0,324.7 L220.0,324.7 Z" fill="none" stroke="#9dd5f2" stroke-width="1.3"/>
<path d="M246.8,307.1 L251.3,315.2 L242.3,315.2 Z" fill="none" stroke="#9dd5f2" stroke-width="1.3"/>
<path d="M275.6,307.7 L280.1,315.8 L271.1,315.8 Z" fill="none" stroke="#9dd5f2" stroke-width="1.3"/>
<path d="M293.8,300.7 L298.3,308.8 L289.3,308.8 Z" fill="none" stroke="#9dd5f2" stroke-width="1.3"/>
<path d="M316.2,301.2 L320.7,309.3 L311.7,309.3 Z" fill="none" stroke="#9dd5f2" stroke-width="1.3"/>
<path d="M344.9,306.2 L349.4,314.3 L340.4,314.3 Z" fill="none" stroke="#9dd5f2" stroke-width="1.3"/>
<path d="M363.2,321.5 L367.7,329.6 L358.7,329.6 Z" fill="none" stroke="#9dd5f2" stroke-width="1.3"/>
<path d="M385.5,316.7 L390.0,324.8 L381.0,324.8 Z" fill="none" stroke="#9dd5f2" stroke-width="1.3"/>
<path d="M414.3,299.0 L418.8,307.1 L409.8,307.1 Z" fill="none" stroke="#9dd5f2" stroke-width="1.3"/>
<path d="M432.5,322.3 L437.0,330.4 L428.0,330.4 Z" fill="none" stroke="#9dd5f2" stroke-width="1.3"/>
<path d="M454.9,346.8 L459.4,354.9 L450.4,354.9 Z" fill="none" stroke="#9dd5f2" stroke-width="1.3"/>
<path d="M483.7,316.7 L488.2,324.8 L479.2,324.8 Z" fill="none" stroke="#9dd5f2" stroke-width="1.3"/>
<path d="M501.9,286.9 L506.4,295.0 L497.4,295.0 Z" fill="none" stroke="#9dd5f2" stroke-width="1.3"/>
<circle cx="108.1" cy="195.4" r="5.1" fill="#9dd5f2"/>
<circle cx="136.9" cy="181.9" r="5.1" fill="#9dd5f2"/>
<circle cx="155.1" cy="175.7" r="5.1" fill="#9dd5f2"/>
<circle cx="177.4" cy="159.5" r="5.1" fill="#9dd5f2"/>
<circle cx="206.2" cy="166.9" r="5.1" fill="#9dd5f2"/>
<circle cx="224.5" cy="152.7" r="5.1" fill="#9dd5f2"/>
<circle cx="246.8" cy="137.5" r="5.1" fill="#9dd5f2"/>
<circle cx="275.6" cy="132.6" r="5.1" fill="#9dd5f2"/>
<circle cx="293.8" cy="129.1" r="5.1" fill="#9dd5f2"/>
<circle cx="316.2" cy="130.5" r="5.1" fill="#9dd5f2"/>
<circle cx="344.9" cy="118.0" r="5.1" fill="#9dd5f2"/>
<circle cx="363.2" cy="116.3" r="5.1" fill="#9dd5f2"/>
<circle cx="385.5" cy="132.1" r="5.1" fill="#9dd5f2"/>
<circle cx="414.3" cy="121.4" r="5.1" fill="#9dd5f2"/>
<circle cx="432.5" cy="107.8" r="5.1" fill="#9dd5f2"/>
<circle cx="454.9" cy="111.9" r="5.1" fill="#9dd5f2"/>
<circle cx="483.7" cy="108.9" r="5.1" fill="#9dd5f2"/>
<circle cx="501.9" cy="121.5" r="5.1" fill="#9dd5f2"/>
<path d="M108.1,315.7 L113.6,325.5 L102.6,325.5 Z" fill="#9dd5f2"/>
<path d="M136.9,305.0 L142.4,314.8 L131.4,314.8 Z" fill="#9dd5f2"/>
<path d="M155.1,299.7 L160.6,309.5 L149.6,309.5 Z" fill="#9dd5f2"/>
<path d="M177.4,308.7 L182.9,318.5 L171.9,318.5 Z" fill="#9dd5f2"/>
<path d="M206.2,304.7 L211.7,314.5 L200.7,314.5 Z" fill="#9dd5f2"/>
<path d="M224.5,307.5 L230.0,317.3 L219.0,317.3 Z" fill="#9dd5f2"/>
<path d="M246.8,300.4 L252.3,310.2 L241.3,310.2 Z" fill="#9dd5f2"/>
<path d="M275.6,302.2 L281.1,312.0 L270.1,312.0 Z" fill="#9dd5f2"/>
<path d="M293.8,297.2 L299.3,307.0 L288.3,307.0 Z" fill="#9dd5f2"/>
<path d="M316.2,299.7 L321.7,309.5 L310.7,309.5 Z" fill="#9dd5f2"/>
<path d="M344.9,304.7 L350.4,314.5 L339.4,314.5 Z" fill="#9dd5f2"/>
<path d="M363.2,318.6 L368.7,328.4 L357.7,328.4 Z" fill="#9dd5f2"/>
<path d="M385.5,313.9 L391.0,323.7 L380.0,323.7 Z" fill="#9dd5f2"/>
<path d="M414.3,297.5 L419.8,307.3 L408.8,307.3 Z" fill="#9dd5f2"/>
<path d="M432.5,320.8 L438.0,330.6 L427.0,330.6 Z" fill="#9dd5f2"/>
<path d="M454.9,345.3 L460.4,355.1 L449.4,355.1 Z" fill="#9dd5f2"/>
<path d="M483.7,315.2 L489.2,325.0 L478.2,325.0 Z" fill="#9dd5f2"/>
<path d="M501.9,285.4 L507.4,295.2 L496.4,295.2 Z" fill="#9dd5f2"/>
<rect x="79.6" y="60.9" width="529.7" height="352.6" fill="none" stroke="#000" stroke-width="3.6"/>
<path d="M69,413.8 H78.5 M73.8,399.6 H78.5 M73.8,385.5 H78.5 M73.8,371.4 H78.5 M73.8,357.3 H78.5 M69,343.2 H78.5 M73.8,329.1 H78.5 M73.8,314.9 H78.5 M73.8,300.8 H78.5 M73.8,286.7 H78.5 M69,272.6 H78.5 M73.8,258.5 H78.5 M73.8,244.4 H78.5 M73.8,230.3 H78.5 M73.8,216.1 H78.5 M69,202.0 H78.5 M73.8,187.9 H78.5 M73.8,173.8 H78.5 M73.8,159.7 H78.5 M73.8,145.6 H78.5 M69,131.4 H78.5 M73.8,117.3 H78.5 M73.8,103.2 H78.5 M73.8,89.1 H78.5 M73.8,75.0 H78.5 M69,60.9 H78.5 M79.3,414.5 V424.6 M148.7,414.5 V419.8 M189.2,414.5 V419.8 M218.0,414.5 V419.8 M240.3,414.5 V419.8 M258.6,414.5 V419.8 M274.0,414.5 V419.8 M287.4,414.5 V419.8 M299.2,414.5 V419.8 M309.7,414.5 V424.6 M379.1,414.5 V419.8 M419.6,414.5 V419.8 M448.4,414.5 V419.8 M470.7,414.5 V419.8 M489.0,414.5 V419.8 M504.4,414.5 V419.8 M517.8,414.5 V419.8 M529.6,414.5 V419.8 M540.1,414.5 V424.6 M609.5,414.5 V419.8 M609.5,414.5 V419.8 M610.5,83.8 H621.6 M610.5,178.2 H621.6 M610.5,272.6 H621.6 M610.5,367.0 H621.6" stroke="#000" stroke-width="1.3" fill="none"/>
<text x="16.49" y="66.96" style="letter-spacing:1.361px;font-size:18.50px"> 500</text><path transform="translate(16.49,66.96) scale(0.00903,-0.00903)" d="M763 0H583V1102Q518 1043 412.5 983T223 894V1061Q375 1129 489 1226T650 1409H763Z" fill="#231f20"/>
<text x="16.49" y="137.54" style="letter-spacing:1.361px;font-size:18.50px"> 000</text><path transform="translate(16.49,137.54) scale(0.00903,-0.00903)" d="M763 0H583V1102Q518 1043 412.5 983T223 894V1061Q375 1129 489 1226T650 1409H763Z" fill="#231f20"/>
<text x="28.66" y="208.12" style="letter-spacing:1.098px;font-size:18.50px">500</text>
<text x="51.58" y="278.70" style="letter-spacing:0.000px;font-size:18.50px">0</text>
<text x="20.78" y="349.28" style="letter-spacing:1.306px;font-size:18.50px">-500</text>
<text x="9.08" y="419.86" style="letter-spacing:1.257px;font-size:18.50px">- 000</text><path transform="translate(16.50,419.86) scale(0.00903,-0.00903)" d="M763 0H583V1102Q518 1043 412.5 983T223 894V1061Q375 1129 489 1226T650 1409H763Z" fill="#231f20"/>
<text x="74.89" y="448.50" style="letter-spacing:0.000px;font-size:18.50px"> </text><path transform="translate(74.89,448.50) scale(0.00903,-0.00903)" d="M763 0H583V1102Q518 1043 412.5 983T223 894V1061Q375 1129 489 1226T650 1409H763Z" fill="#231f20"/>
<text x="297.59" y="448.50" style="letter-spacing:1.759px;font-size:18.50px"> 0</text><path transform="translate(297.59,448.50) scale(0.00903,-0.00903)" d="M763 0H583V1102Q518 1043 412.5 983T223 894V1061Q375 1129 489 1226T650 1409H763Z" fill="#231f20"/>
<text x="522.19" y="448.50" style="letter-spacing:1.235px;font-size:18.50px"> 00</text><path transform="translate(522.19,448.50) scale(0.00903,-0.00903)" d="M763 0H583V1102Q518 1043 412.5 983T223 894V1061Q375 1129 489 1226T650 1409H763Z" fill="#231f20"/>
<text x="624.99" y="90.20" style="letter-spacing:0.869px;font-size:18.50px"> .4</text><path transform="translate(624.99,90.20) scale(0.00903,-0.00903)" d="M763 0H583V1102Q518 1043 412.5 983T223 894V1061Q375 1129 489 1226T650 1409H763Z" fill="#231f20"/>
<text x="625.09" y="184.50" style="letter-spacing:1.214px;font-size:18.50px"> .2</text><path transform="translate(625.09,184.50) scale(0.00903,-0.00903)" d="M763 0H583V1102Q518 1043 412.5 983T223 894V1061Q375 1129 489 1226T650 1409H763Z" fill="#231f20"/>
<text x="625.09" y="278.80" style="letter-spacing:1.210px;font-size:18.50px"> .0</text><path transform="translate(625.09,278.80) scale(0.00903,-0.00903)" d="M763 0H583V1102Q518 1043 412.5 983T223 894V1061Q375 1129 489 1226T650 1409H763Z" fill="#231f20"/>
<text x="626.38" y="373.10" style="letter-spacing:0.855px;font-size:18.50px">0.8</text>
<text x="295.38" y="468.60" style="letter-spacing:1.172px;font-size:18.50px">Period(days)</text>
<text x="-325.94" y="0" transform="translate(14.90,0) rotate(-90)" style="letter-spacing:0.000px;font-size:18.50px" font-style="italic">C</text>
<text x="-312.12" y="0" transform="translate(14.90,0) rotate(-90)" style="letter-spacing:1.067px;font-size:18.50px">-responses(km)</text>
<text x="194.26" y="0" transform="translate(668.00,0) rotate(90)" style="letter-spacing:0.000px;font-size:18.50px">C</text>
<text x="208.67" y="0" transform="translate(677.30,0) rotate(90)" style="letter-spacing:1.546px;font-size:8.60px">3D</text>
<text x="222.90" y="0" transform="translate(668.00,0) rotate(90)" style="letter-spacing:-0.095px;font-size:18.50px">/C</text>
<text x="244.07" y="0" transform="translate(677.30,0) rotate(90)" style="letter-spacing:1.356px;font-size:8.60px">3D+3Dshell</text>
<path d="M91.4,8.2 H118.2" stroke="#000" stroke-width="1.6"/>
<path d="M91.4,35.8 H98.3 M99.7,35.8 H108.0 M109.5,35.8 H118.2" stroke="#000" stroke-width="1.6"/>
<text x="136.08" y="14.55" style="letter-spacing:0.778px;font-size:18.50px">Factor Re</text>
<text x="135.98" y="41.55" style="letter-spacing:0.840px;font-size:18.50px">Factor Im</text>
<circle cx="265.8" cy="8.0" r="5.1" fill="none" stroke="#000" stroke-width="1.5"/>
<path d="M265.8,31.2 L270.9,40.1 L260.7,40.1 Z" fill="none" stroke="#000" stroke-width="1.5"/>
<text x="289.02" y="14.65" style="letter-spacing:0.940px;font-size:18.50px">Observed Re</text>
<text x="289.02" y="41.65" style="letter-spacing:0.990px;font-size:18.50px">Observed Im</text>
<circle cx="440.6" cy="8.2" r="5.5" fill="#000"/>
<path d="M440.6,30.8 L446.2,40.9 L435.1,40.9 Z" fill="#000"/>
<text x="464.36" y="14.65" style="letter-spacing:0.895px;font-size:18.50px">Corrected Re</text>
<text x="464.36" y="41.65" style="letter-spacing:0.922px;font-size:18.50px">Corrected Im</text>
</svg></body></html>
